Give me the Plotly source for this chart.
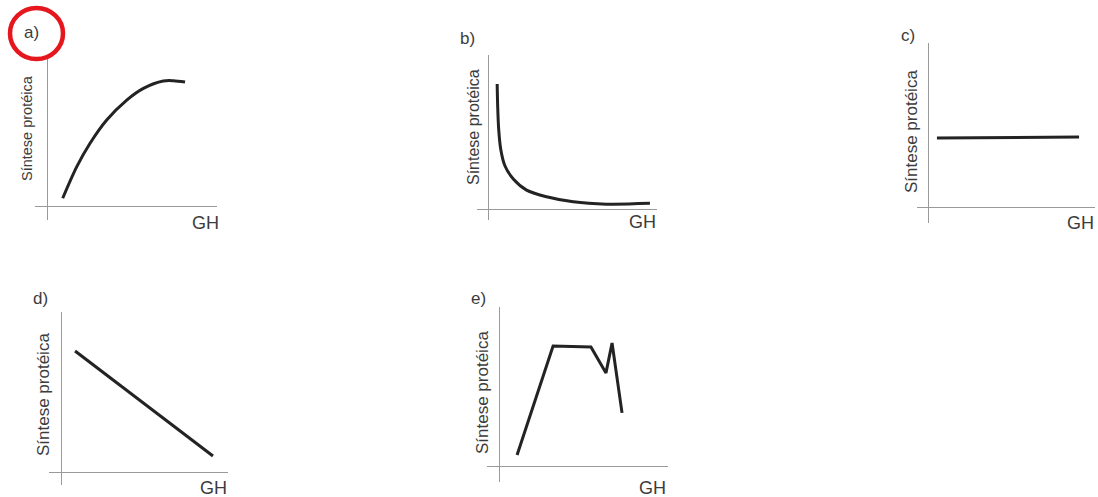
import plotly.graph_objects as go

W, H = 1098, 497

# ---- data (abstract units: GH 0..10, Síntese protéica 0..10) ----
a_gh = [0.92, 1.75, 2.53, 3.51, 4.69, 5.67, 6.84, 7.43, 8.12]
a_sp = [0.58, 2.69, 4.25, 5.80, 7.13, 7.91, 8.40, 8.42, 8.33]

b_gh = [0.49, 0.52, 0.58, 0.70, 0.95, 1.45, 2.24, 3.43, 5.02, 7.00, 9.58]
b_sp = [8.12, 6.71, 5.19, 3.90, 2.81, 1.95, 1.23, 0.80, 0.47, 0.32, 0.37]

c_gh = [0.48, 9.04]
c_sp = [4.24, 4.30]

d_gh = [0.84, 9.10]
d_sp = [7.56, 1.00]

e_gh = [1.07, 3.20, 5.44, 6.33, 6.69, 7.28]
e_sp = [0.75, 7.56, 7.50, 5.88, 7.75, 3.38]

panel_labels = ["a)", "b)", "c)", "d)", "e)"]
x_label = "GH"
y_label = "Síntese protéica"

# ---- layout per panel (pixel boxes: left, right, top, bottom; axis ranges) ----
panels = [
    dict(gh=a_gh, sp=a_sp, shape="spline", box=(35, 217, 57, 220), xr=(-0.71, 10), yr=(-0.87, 10),
         lab=(31, 33, 17), ylab=(27, 128, 14.5), gh_pos=(205, 223)),
    dict(gh=b_gh, sp=b_sp, shape="spline", box=(477, 657, 55, 220), xr=(-0.71, 10), yr=(-0.71, 10),
         lab=(468, 38, 17), ylab=(473, 127, 16), gh_pos=(642, 222)),
    dict(gh=c_gh, sp=c_sp, shape="linear", box=(917, 1095, 43, 223), xr=(-0.72, 10), yr=(-0.91, 10),
         lab=(908, 35, 17), ylab=(912, 132, 17), gh_pos=(1080, 223)),
    dict(gh=d_gh, sp=d_sp, shape="linear", box=(49, 228, 312, 485), xr=(-0.72, 10), yr=(-0.81, 10),
         lab=(40, 298, 17), ylab=(43, 395, 17), gh_pos=(213, 488)),
    dict(gh=e_gh, sp=e_sp, shape="linear", box=(487, 668, 307, 482), xr=(-0.71, 10), yr=(-0.94, 10),
         lab=(478, 298, 17), ylab=(482, 393, 17), gh_pos=(652, 488)),
]

def px(x):
    return x / W

def py(y):
    return 1 - y / H

fig = go.Figure()
annotations = []
font_family = "Liberation Sans, Arial, sans-serif"
text_color = "#3c3c3c"

for i, p in enumerate(panels, start=1):
    sfx = "" if i == 1 else str(i)
    fig.add_trace(go.Scatter(
        x=p["gh"], y=p["sp"], mode="lines",
        line=dict(color="#232323", width=3, shape=p["shape"], smoothing=0.9),
        xaxis="x" + sfx, yaxis="y" + sfx, showlegend=False, hoverinfo="skip",
    ))
    l, r, t, b = p["box"]
    axis_common = dict(showgrid=False, showticklabels=False, ticks="", showline=False,
                       zeroline=True, zerolinecolor="#9a9a9a", zerolinewidth=1, fixedrange=True)
    fig.update_layout(**{
        "xaxis" + sfx: dict(domain=[px(l), px(r)], range=list(p["xr"]), anchor="y" + sfx, **axis_common),
        "yaxis" + sfx: dict(domain=[py(b), py(t)], range=list(p["yr"]), anchor="x" + sfx, **axis_common),
    })
    lx, ly, lfs = p["lab"]
    annotations.append(dict(text=panel_labels[i - 1], x=px(lx), y=py(ly), xref="paper", yref="paper",
                            showarrow=False, xanchor="center", yanchor="middle",
                            font=dict(family=font_family, size=lfs, color=text_color)))
    yx, yy, yfs = p["ylab"]
    annotations.append(dict(text=y_label, x=px(yx), y=py(yy), xref="paper", yref="paper",
                            showarrow=False, textangle=-90, xanchor="center", yanchor="middle",
                            font=dict(family=font_family, size=yfs, color=text_color)))
    gx, gy = p["gh_pos"]
    annotations.append(dict(text=x_label, x=px(gx), y=py(gy), xref="paper", yref="paper",
                            showarrow=False, xanchor="center", yanchor="middle",
                            font=dict(family=font_family, size=18, color=text_color)))

# red highlight circle around "a)"
shapes = [dict(type="circle", xref="paper", yref="paper",
               x0=px(10), x1=px(63), y0=py(59), y1=py(8),
               line=dict(color="#e5161d", width=4.5))]

fig.update_layout(
    width=W, height=H, margin=dict(l=0, r=0, t=0, b=0),
    paper_bgcolor="white", plot_bgcolor="rgba(0,0,0,0)",
    annotations=annotations, shapes=shapes,
)

# remove the page's default body margin so the figure fills the window exactly
fig.write_html("out.html",
               config={"displayModeBar": False, "staticPlot": True},
               post_script="document.body.style.margin='0';document.body.style.overflow='hidden';")
